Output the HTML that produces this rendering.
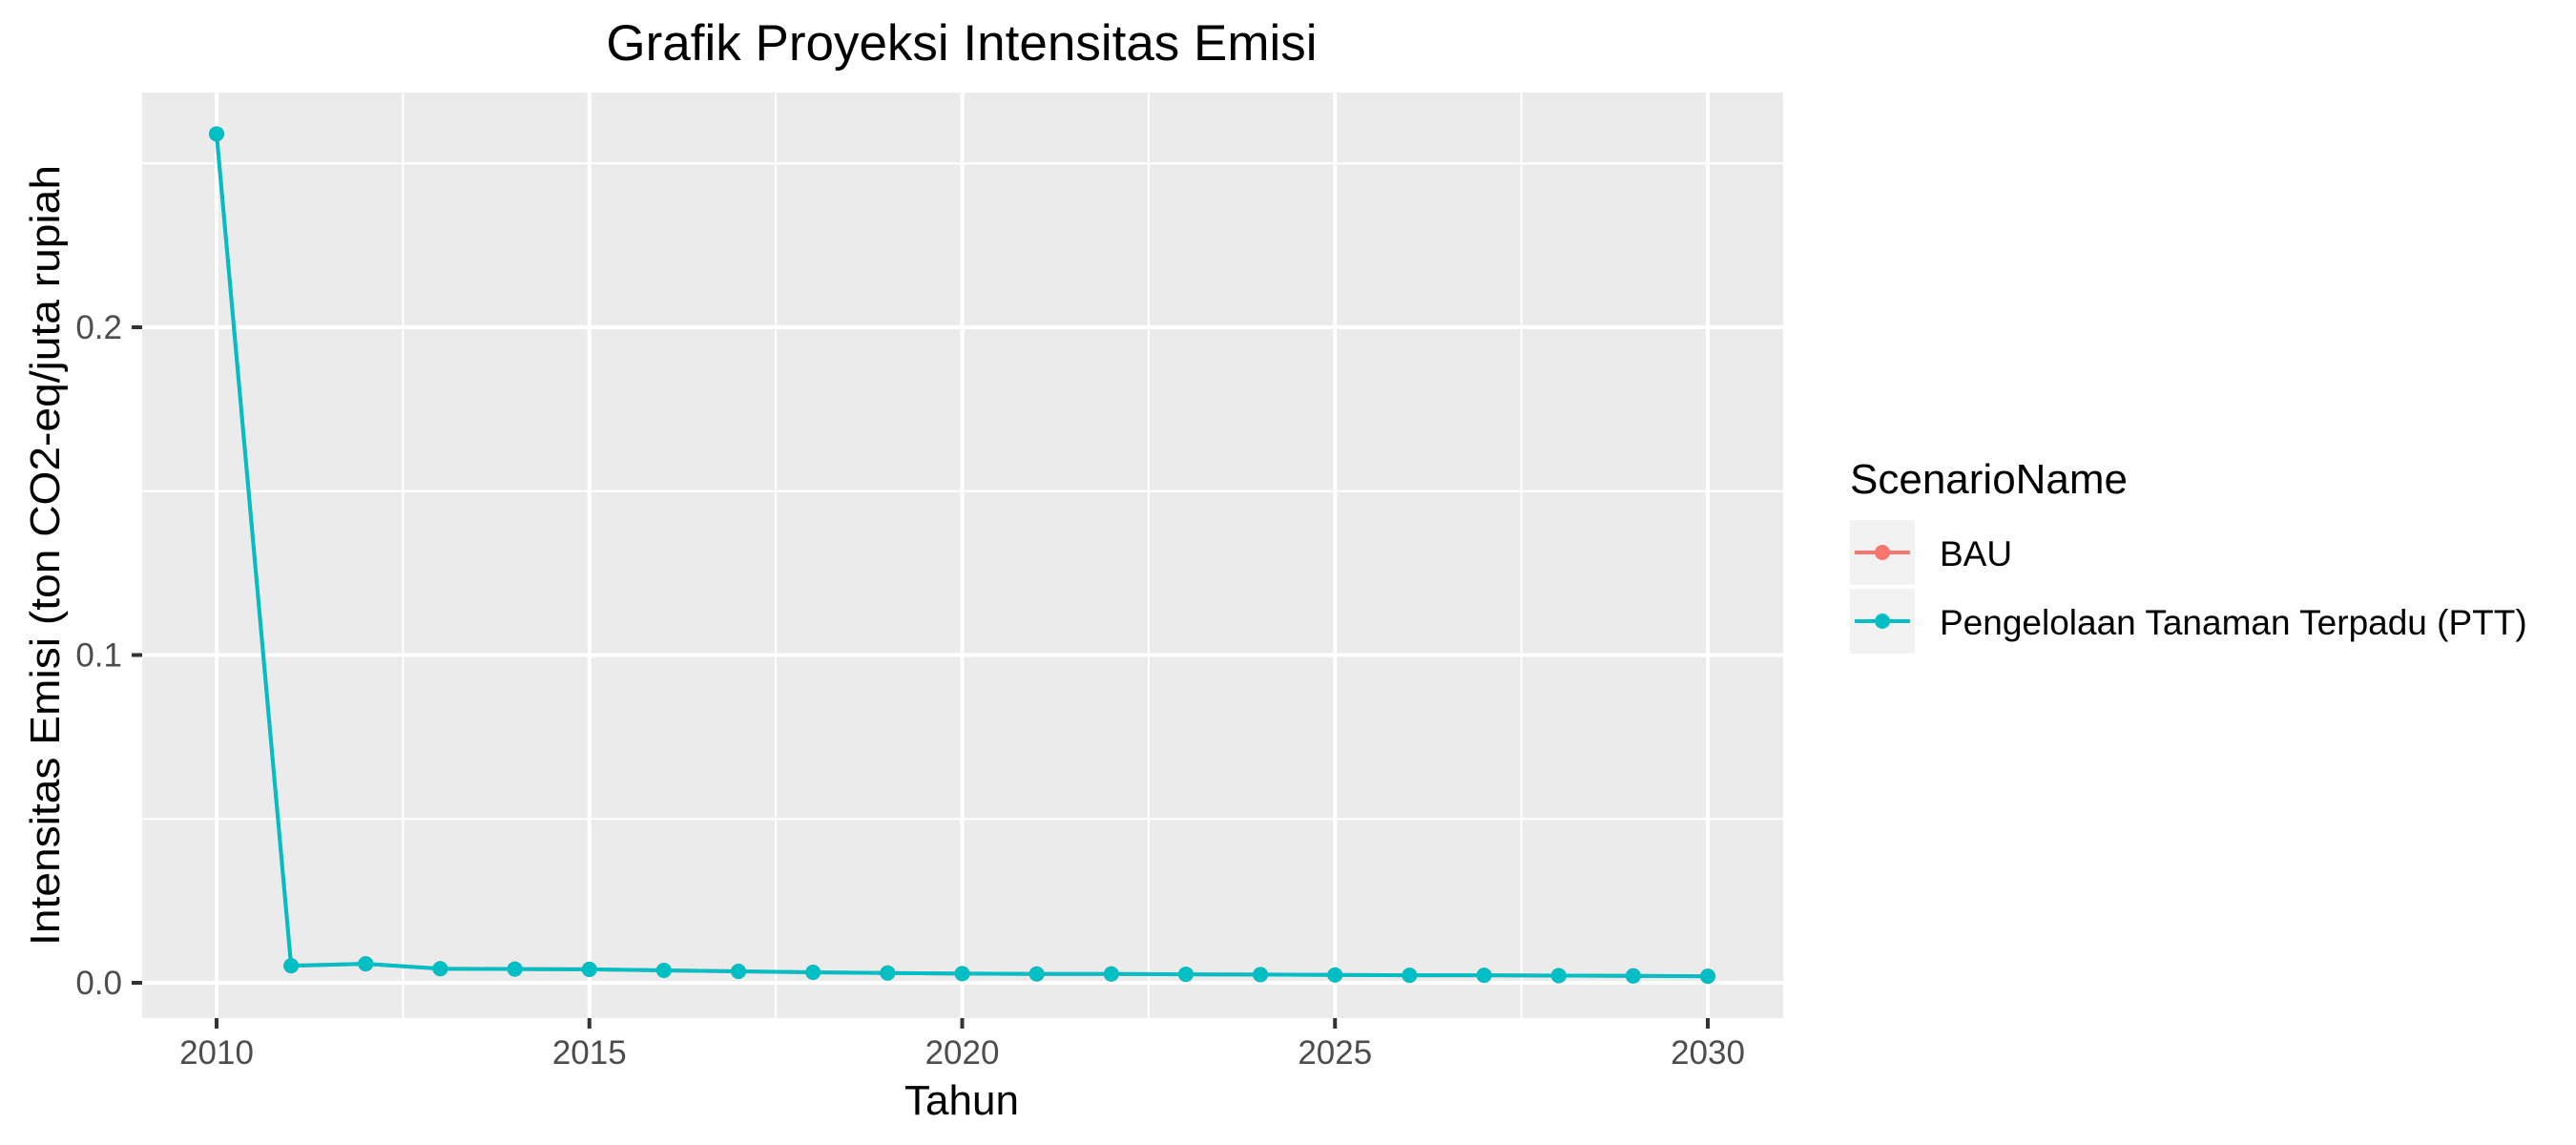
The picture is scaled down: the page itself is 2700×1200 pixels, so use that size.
<!DOCTYPE html>
<html><head><meta charset="utf-8"><style>
html,body{margin:0;padding:0;background:#fff;}
svg{display:block;font-family:"Liberation Sans",Arial,sans-serif;}
</style></head><body>
<svg id="chart" width="2700" height="1200" viewBox="0 0 2700 1200">
<text x="1008" y="63" font-size="53" text-anchor="middle" fill="#000">Grafik Proyeksi Intensitas Emisi</text>
<rect x="149" y="97" width="1720" height="970" fill="#ebebeb"/>
<g id="grid"></g>
<g id="axes"></g>
<g id="series"></g>
<text x="1008" y="1168" font-size="44" text-anchor="middle" fill="#000">Tahun</text>
<text transform="translate(62,582) rotate(-90)" font-size="44" text-anchor="middle" fill="#000" textLength="818" lengthAdjust="spacingAndGlyphs">Intensitas Emisi (ton CO2-eq/juta rupiah</text>
<g>
<text x="1939" y="517" font-size="44" fill="#000">ScenarioName</text>
<g>
<rect x="1939" y="545" width="68" height="68" fill="#f2f2f2"/>
<line x1="1944" y1="579" x2="2002" y2="579" stroke="#f8766d" stroke-width="4"/>
<circle cx="1973" cy="579" r="8" fill="#f8766d"/>
<text x="2033" y="593" font-size="37" fill="#000">BAU</text>
</g>
<g>
<rect x="1939" y="617" width="68" height="68" fill="#f2f2f2"/>
<line x1="1944" y1="651" x2="2002" y2="651" stroke="#00bfc4" stroke-width="4"/>
<circle cx="1973" cy="651" r="8" fill="#00bfc4"/>
<text x="2033" y="665" font-size="37" fill="#000">Pengelolaan Tanaman Terpadu (PTT)</text>
</g>
</g>
</svg>
<script>
const years = [2010,2011,2012,2013,2014,2015,2016,2017,2018,2019,2020,2021,2022,2023,2024,2025,2026,2027,2028,2029,2030];
const bauValues = [0.259,0.0052,0.0058,0.0043,0.0042,0.0041,0.0038,0.0035,0.0032,0.003,0.0028,0.0027,0.0027,0.0026,0.0025,0.0024,0.0023,0.0023,0.0022,0.0021,0.002];
const pttValues = [0.259,0.0052,0.0058,0.0043,0.0042,0.0041,0.0038,0.0035,0.0032,0.003,0.0028,0.0027,0.0027,0.0026,0.0025,0.0024,0.0023,0.0023,0.0022,0.0021,0.002];
const xTicks = [2010,2015,2020,2025,2030];
const xMinor = [2012.5,2017.5,2022.5,2027.5];
const yTicks = [0,0.1,0.2];
const yTickLabels = ["0.0","0.1","0.2"];
const yMinor = [0.05,0.15,0.25];

const NS = "http://www.w3.org/2000/svg";
const X0 = 227, PX_PER_YEAR = (1790-227)/20;
const Y0 = 1030, PX_PER_UNIT = 3435;
const PL = 149, PR = 1869, PT = 97, PB = 1067;
function xs(v){ return X0 + (v-2010)*PX_PER_YEAR; }
function ys(v){ return Y0 - v*PX_PER_UNIT; }
function mk(tag, attrs, parent){ const e=document.createElementNS(NS,tag); for(const k in attrs) e.setAttribute(k,attrs[k]); parent.appendChild(e); return e; }

const grid = document.getElementById('grid');
const axes = document.getElementById('axes');
const series = document.getElementById('series');

yMinor.forEach(v=>{ const l=mk('line',{x1:PL,x2:PR,y1:ys(v),y2:ys(v),stroke:'#fff','stroke-width':2},grid);

 });
xMinor.forEach(v=>{ const l=mk('line',{x1:xs(v),x2:xs(v),y1:PT,y2:PB,stroke:'#fff','stroke-width':2},grid);

 });
yTicks.forEach((v,i)=>{ const l=mk('line',{x1:PL,x2:PR,y1:ys(v),y2:ys(v),stroke:'#fff','stroke-width':4},grid);


const t=mk('line',{x1:138,x2:149,y1:ys(v),y2:ys(v),stroke:'#333','stroke-width':4},axes);


const tx=mk('text',{x:128,y:ys(v)+12,'font-size':35,'text-anchor':'end',fill:'#4d4d4d'},axes);
tx.textContent=yTickLabels[i];

 });
xTicks.forEach(v=>{ const l=mk('line',{x1:xs(v),x2:xs(v),y1:PT,y2:PB,stroke:'#fff','stroke-width':4},grid);


const t=mk('line',{x1:xs(v),x2:xs(v),y1:PB,y2:PB+11,stroke:'#333','stroke-width':4},axes);


const tx=mk('text',{x:xs(v),y:1115,'font-size':35,'text-anchor':'middle',fill:'#4d4d4d'},axes);
tx.textContent=String(v);

 });

function drawSeries(vals, color, name){
  const g=mk('g',{},series);
  
  
  const pts=vals.map((v,i)=>xs(years[i])+','+ys(v)).join(' ');
  const pl=mk('polyline',{points:pts,fill:'none',stroke:color,'stroke-width':4,'stroke-linejoin':'round'},g);
  
  
  vals.forEach((v,i)=>{ const c=mk('circle',{cx:xs(years[i]),cy:ys(v),r:8,fill:color},g);
    
     });
}
drawSeries(bauValues,'#f8766d','bau-series');
drawSeries(pttValues,'#00bfc4','ptt-series');
</script>
</body></html>
